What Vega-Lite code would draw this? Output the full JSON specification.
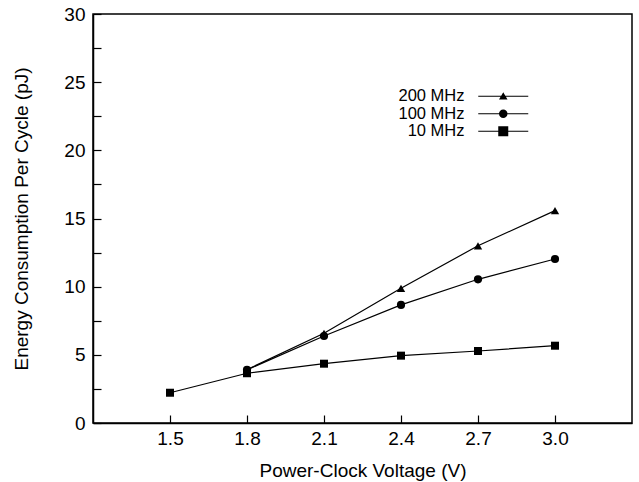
{
  "$schema": "https://vega.github.io/schema/vega-lite/v6.json",
  "width": 539,
  "height": 409,
  "autosize": "none",
  "padding": {"left": 93, "top": 14, "right": 7, "bottom": 59},
  "background": "white",
  "config": {
    "font": "Liberation Sans",
    "view": {"stroke": "black", "strokeWidth": 1.5},
    "axis": {
      "domainColor": "black",
      "domainWidth": 1.5,
      "tickColor": "black",
      "tickWidth": 1.2,
      "tickSize": -8,
      "grid": false,
      "labelColor": "black",
      "labelFontSize": 19,
      "titleColor": "black",
      "titleFontSize": 19,
      "titleFontWeight": "normal"
    }
  },
  "data": {
    "values": [
      {"freq": "200 MHz", "voltage": 1.8, "energy": 3.92},
      {"freq": "200 MHz", "voltage": 2.1, "energy": 6.58},
      {"freq": "200 MHz", "voltage": 2.4, "energy": 9.88},
      {"freq": "200 MHz", "voltage": 2.7, "energy": 13.0},
      {"freq": "200 MHz", "voltage": 3.0, "energy": 15.58},
      {"freq": "100 MHz", "voltage": 1.8, "energy": 3.9},
      {"freq": "100 MHz", "voltage": 2.1, "energy": 6.38},
      {"freq": "100 MHz", "voltage": 2.4, "energy": 8.66},
      {"freq": "100 MHz", "voltage": 2.7, "energy": 10.54},
      {"freq": "100 MHz", "voltage": 3.0, "energy": 12.03},
      {"freq": "10 MHz", "voltage": 1.5, "energy": 2.22},
      {"freq": "10 MHz", "voltage": 1.8, "energy": 3.65},
      {"freq": "10 MHz", "voltage": 2.1, "energy": 4.35},
      {"freq": "10 MHz", "voltage": 2.4, "energy": 4.94},
      {"freq": "10 MHz", "voltage": 2.7, "energy": 5.28},
      {"freq": "10 MHz", "voltage": 3.0, "energy": 5.67}
    ]
  },
  "encoding": {
    "x": {
      "field": "voltage",
      "type": "quantitative",
      "scale": {"domain": [1.2, 3.3], "nice": false, "zero": false},
      "axis": {
        "title": "Power-Clock Voltage (V)",
        "values": [1.5, 1.8, 2.1, 2.4, 2.7, 3.0],
        "format": ".1f",
        "labelPadding": 14,
        "titlePadding": 13
      }
    },
    "y": {
      "field": "energy",
      "type": "quantitative",
      "scale": {"domain": [0, 30], "nice": false},
      "axis": {
        "title": "Energy Consumption Per Cycle (pJ)",
        "values": [0, 2.5, 5, 7.5, 10, 12.5, 15, 17.5, 20, 22.5, 25, 27.5, 30],
        "labelExpr": "datum.value % 5 === 0 ? datum.label : ''",
        "labelPadding": 16,
        "titlePadding": 32
      }
    }
  },
  "layer": [
    {
      "mark": {"type": "line", "color": "black", "strokeWidth": 1.2},
      "encoding": {"detail": {"field": "freq", "type": "nominal"}}
    },
    {
      "mark": {"type": "point", "filled": true, "color": "black", "opacity": 1},
      "encoding": {
        "shape": {
          "field": "freq",
          "type": "nominal",
          "scale": {
            "domain": ["200 MHz", "100 MHz", "10 MHz"],
            "range": ["triangle-up", "circle", "square"]
          },
          "legend": null
        },
        "size": {
          "field": "freq",
          "type": "nominal",
          "scale": {
            "domain": ["200 MHz", "100 MHz", "10 MHz"],
            "range": [70, 64, 90]
          },
          "legend": null
        }
      }
    },
    {
      "mark": {"type": "point", "filled": true, "color": "black", "opacity": 0, "size": 100},
      "encoding": {
        "shape": {
          "field": "freq",
          "type": "nominal",
          "scale": {
            "domain": ["200 MHz", "100 MHz", "10 MHz"],
            "range": [
              "M-5,-0.12H5V0.12H-5ZM0,-0.8L0.85,0.65H-0.85Z",
              "M-5,-0.12H5V0.12H-5ZM-0.85,0A0.85,0.85,0,1,1,0.85,0A0.85,0.85,0,1,1,-0.85,0Z",
              "M-5,-0.12H5V0.12H-5ZM-1,-1H1V1H-1Z"
            ]
          },
          "legend": {
            "title": null,
            "orient": "none",
            "legendX": 358,
            "legendY": 74,
            "padding": 0,
            "symbolSize": 100,
            "symbolOffset": 44,
            "labelAlign": "right",
            "labelOffset": -47,
            "labelFontSize": 16.5,
            "labelColor": "black",
            "labelLimit": 200,
            "rowPadding": 0.5,
            "encode": {
              "symbols": {
                "update": {
                  "fill": {"value": "black"},
                  "opacity": {"value": 1},
                  "fillOpacity": {"value": 1}
                }
              }
            }
          }
        }
      }
    }
  ],
  "resolve": {"scale": {"shape": "independent"}, "legend": {"shape": "independent"}}
}
